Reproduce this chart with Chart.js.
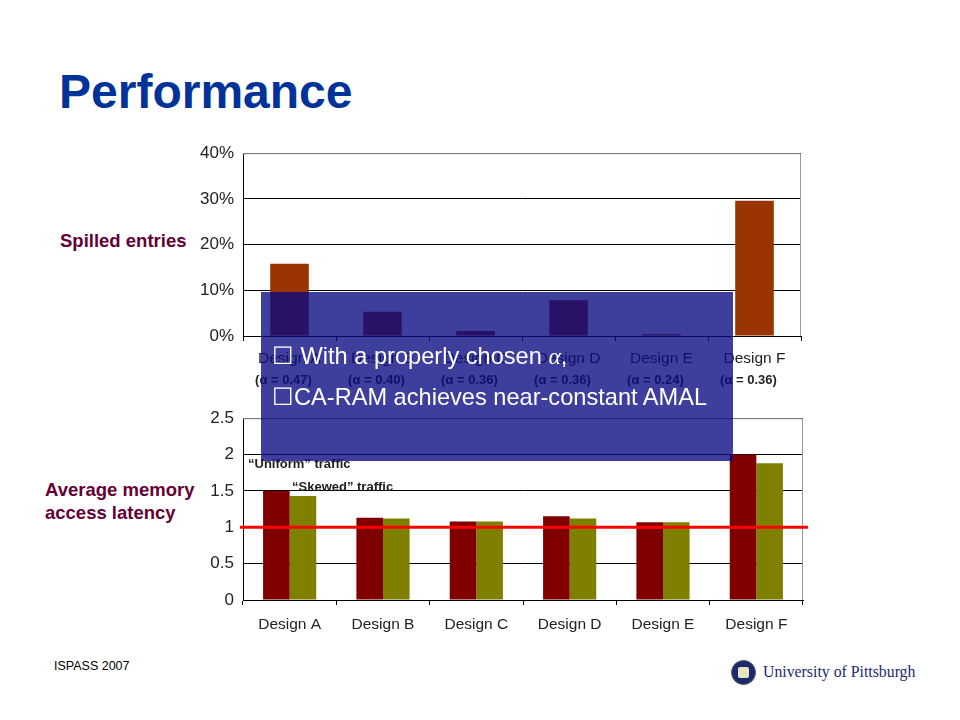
<!DOCTYPE html>
<html><head><meta charset="utf-8">
<script src="https://cdn.jsdelivr.net/npm/chart.js@4/dist/chart.umd.min.js"></script>
<style>
html,body{margin:0;padding:0;background:#fff;}
body{width:960px;height:720px;position:relative;overflow:hidden;font-family:Arial,"Liberation Sans",sans-serif;}
.abs{position:absolute;}
#title{left:59px;top:64px;font-size:48px;font-weight:bold;color:#003399;}
.lbl{color:#660033;font-weight:bold;font-size:18.5px;line-height:23px;white-space:nowrap;}
#c1wrap{left:190px;top:134px;width:620px;height:266px;}
#c2wrap{left:190px;top:399px;width:620px;height:246px;}
#overlay{left:261px;top:292px;width:472px;height:169px;background:rgba(10,10,130,0.79);color:#fff;font-size:23.6px;}
#overlay div{position:absolute;left:11px;white-space:nowrap;}
.ann{font-size:13px;font-weight:bold;color:#222;white-space:nowrap;}
#foot{left:54px;top:659px;font-size:12.5px;color:#000;}
#pitt{left:763px;top:663px;font-family:"Liberation Serif","DejaVu Serif",serif;font-size:15.8px;color:#1c2a6b;white-space:nowrap;}
#seal{left:731px;top:660px;width:23px;height:23px;border-radius:50%;background:#1c2a6b;border:1px solid #556;}
#seal div{position:absolute;left:6px;top:6px;width:11px;height:11px;background:#e8e4c0;border-radius:2px;}
</style></head><body>
<div id="title" class="abs">Performance</div>
<div class="abs lbl" style="left:60px;top:229px;">Spilled entries</div>
<div class="abs lbl" style="left:45px;top:478px;">Average memory<br>access latency</div>
<div id="c1wrap" class="abs"><canvas id="c1" width="620" height="266"></canvas></div>
<div id="c2wrap" class="abs"><canvas id="c2" width="620" height="246"></canvas></div>
<div class="abs ann" style="left:248px;top:456px;">“Uniform” traffic</div>
<div class="abs ann" style="left:292px;top:479px;">“Skewed” traffic</div>
<div id="overlay" class="abs">
  <div style="top:50px;">☐ With a properly chosen <span style="font-family:'Liberation Serif','DejaVu Serif',serif;font-style:italic;">α</span>,</div>
  <div style="top:91px;">☐CA-RAM achieves near-constant AMAL</div>
</div>
<div id="foot" class="abs">ISPASS 2007</div>
<div id="seal" class="abs"><div></div></div>
<div id="pitt" class="abs">University of Pittsburgh</div>
<script>
const designs = ["Design A","Design B","Design C","Design D","Design E","Design F"];
const alphaLabels = ["(α = 0.47)","(α = 0.40)","(α = 0.36)","(α = 0.36)","(α = 0.24)","(α = 0.36)"];
const spilledPct = [15.8, 5.3, 1.1, 7.8, 0.4, 29.6];
const spilledTicks = [0,10,20,30,40];
const uniformAmal = [1.50, 1.13, 1.08, 1.15, 1.07, 2.00];
const skewedAmal  = [1.43, 1.12, 1.08, 1.12, 1.07, 1.88];
const amalTicks = [0,0.5,1,1.5,2,2.5];
const referenceAmal = 1;

Chart.defaults.font.family = 'Arial, "Liberation Sans", sans-serif';
Chart.defaults.color = '#000';

function fixWidth(w){return function(s){s.width=w;};}
function fixHeight(h){return function(s){s.height=h;};}

const frame = {
  id:'frame',
  beforeDatasetsDraw(chart){
    const a=chart.chartArea, ctx=chart.ctx;
    ctx.save();
    ctx.strokeStyle='#999'; ctx.lineWidth=1;
    ctx.beginPath();
    ctx.moveTo(a.left,a.top+0.5); ctx.lineTo(a.right-0.5,a.top+0.5); ctx.lineTo(a.right-0.5,a.bottom);
    ctx.stroke();
    ctx.restore();
  }
};

const alphaPlugin = {
  id:'alphaRow',
  afterDraw(chart){
    const x=chart.scales.x, ctx=chart.ctx;
    ctx.save();
    ctx.font='bold 13px Arial, "Liberation Sans", sans-serif';
    ctx.fillStyle='#222'; ctx.textAlign='center'; ctx.textBaseline='middle';
    const y = chart.chartArea.bottom + 44;
    alphaLabels.forEach((t,i)=>{ ctx.fillText(t, x.getPixelForValue(i)-6, y); });
    ctx.restore();
  }
};

const refLine = {
  id:'refLine',
  afterDatasetsDraw(chart){
    const a=chart.chartArea, y=chart.scales.y.getPixelForValue(referenceAmal), ctx=chart.ctx;
    ctx.save(); ctx.strokeStyle='#ff0000'; ctx.lineWidth=3;
    ctx.beginPath(); ctx.moveTo(a.left-3, y); ctx.lineTo(a.right+5, y); ctx.stroke(); ctx.restore();
  }
};

new Chart(document.getElementById('c1'), {
  type:'bar',
  data:{labels:designs, datasets:[{data:spilledPct, backgroundColor:'#993300', barPercentage:0.415, categoryPercentage:1}]},
  options:{
    responsive:false, animation:false,
    layout:{padding:{top:6,right:9,left:0,bottom:0}},
    plugins:{legend:{display:false}, tooltip:{enabled:false}},
    scales:{
      y:{min:0,max:40,afterBuildTicks(s){s.ticks=spilledTicks.map(v=>({value:v}));},
         afterFit:fixWidth(53),
         ticks:{callback:v=>v+'%', font:{size:17}, color:'#222', padding:9},
         grid:{color:'#000', drawTicks:false}, border:{color:'#000'}},
      x:{afterFit:fixHeight(64),
         ticks:{font:{size:15.5}, color:'#222', padding:8},
         grid:{offset:true, drawOnChartArea:false, drawTicks:true, tickLength:5, color:'#000'},
         border:{color:'#000'}}
    }
  },
  plugins:[frame, alphaPlugin]
});

new Chart(document.getElementById('c2'), {
  type:'bar',
  data:{labels:designs, datasets:[
    {label:'“Uniform” traffic', data:uniformAmal, backgroundColor:'#800000', barPercentage:1, categoryPercentage:0.57},
    {label:'“Skewed” traffic', data:skewedAmal, backgroundColor:'#808000', barPercentage:1, categoryPercentage:0.57}
  ]},
  options:{
    responsive:false, animation:false,
    layout:{padding:{top:4,right:7,left:0,bottom:0}},
    plugins:{legend:{display:false}, tooltip:{enabled:false}},
    scales:{
      y:{min:0,max:2.5,afterBuildTicks(s){s.ticks=amalTicks.map(v=>({value:v}));},
         afterFit:fixWidth(53),
         ticks:{callback:v=>String(v), font:{size:17}, color:'#222', padding:9},
         grid:{color:'#000', drawTicks:false}, border:{color:'#000'}},
      x:{afterFit:fixHeight(45),
         ticks:{font:{size:15.5}, color:'#222', padding:10},
         grid:{offset:true, drawOnChartArea:false, drawTicks:true, tickLength:5, color:'#000'},
         border:{color:'#000'}}
    }
  },
  plugins:[frame, refLine]
});
</script>
</body></html>
